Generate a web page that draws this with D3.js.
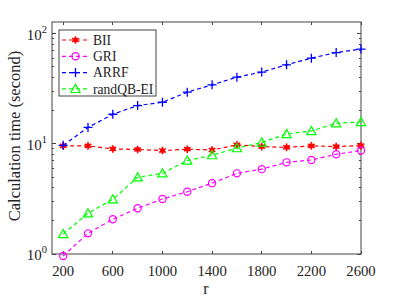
<!DOCTYPE html>
<meta charset="utf-8">
<style>
body { margin: 0; background: #fff; }
text { font-family: "Liberation Serif", "DejaVu Serif", serif; fill: #222; }
.axis path, .axis line { fill: none; stroke: #444; shape-rendering: crispEdges; }
</style>
<body>
<script src="https://cdn.jsdelivr.net/npm/d3@7/dist/d3.min.js"></script>
<script>

var rValues = [200, 400, 600, 800, 1000, 1200, 1400, 1600, 1800, 2000, 2200, 2400, 2600];
var bii = [9.6, 9.6, 9.0, 8.9, 8.7, 8.95, 8.8, 9.8, 9.45, 9.3, 9.6, 9.45, 9.65];
var gri = [0.96, 1.54, 2.07, 2.6, 3.16, 3.68, 4.4, 5.4, 5.9, 6.8, 7.15, 8.05, 8.7];
var arrf = [9.7, 14.1, 18.6, 22.3, 23.9, 29.5, 34.4, 40.4, 44.9, 52.3, 60.1, 67.6, 72.6];
var randqb = [1.52, 2.34, 3.14, 4.98, 5.4, 7.05, 7.9, 9.15, 10.3, 12.3, 13.1, 15.4, 15.8];
var xTicks = [200, 600, 1000, 1400, 1800, 2200, 2600];
var yTicks = [1, 10, 100];

var series = [
  {name: "BII", values: bii, color: "#ff0000", marker: "star"},
  {name: "GRI", values: gri, color: "#ff00ff", marker: "circle"},
  {name: "ARRF", values: arrf, color: "#0000ff", marker: "plus"},
  {name: "randQB-EI", values: randqb, color: "#00ff00", marker: "triangle"}
];

var W = 399, H = 299,
    pL = 52, pR = 361, pT = 22, pB = 254;

var svg = d3.select("body").append("svg")
    .attr("width", W)
    .attr("height", H);

var x = d3.scaleLinear().domain([110, 2600]).range([pL, pR]);
var y = d3.scaleLog().domain([1, 128]).range([pB, pT]);

// minor log ticks
var minor = [];
for (var d = 1; d <= 100; d *= 10) {
  for (var k = 2; k <= 9; k++) if (d * k <= 128) minor.push(d * k);
}

var g = svg.append("g").attr("class", "axis");

// box
g.append("rect")
    .attr("x", pL).attr("y", pT)
    .attr("width", pR - pL).attr("height", pB - pT)
    .attr("fill", "none").attr("stroke", "#444");

// x ticks (bottom & top, inward)
xTicks.forEach(function(v) {
  g.append("line").attr("x1", x(v)).attr("x2", x(v)).attr("y1", pB).attr("y2", pB - 3);
  g.append("line").attr("x1", x(v)).attr("x2", x(v)).attr("y1", pT).attr("y2", pT + 3);
});
svg.selectAll(".xlab")
    .data(xTicks)
  .enter().append("text")
    .attr("x", function(d) { return x(d); })
    .attr("y", pB + 22)
    .attr("text-anchor", "middle")
    .style("font-size", "14.7px")
    .text(function(d) { return d; });

// y ticks
yTicks.forEach(function(v) {
  g.append("line").attr("x1", pL).attr("x2", pL + 4).attr("y1", y(v)).attr("y2", y(v));
  g.append("line").attr("x1", pR).attr("x2", pR - 4).attr("y1", y(v)).attr("y2", y(v));
});
minor.forEach(function(v) {
  g.append("line").attr("x1", pL).attr("x2", pL + 2).attr("y1", y(v)).attr("y2", y(v));
  g.append("line").attr("x1", pR).attr("x2", pR - 2).attr("y1", y(v)).attr("y2", y(v));
});
var ylab = svg.selectAll(".ylab")
    .data(yTicks)
  .enter().append("text")
    .attr("x", pL - 5)
    .attr("y", function(d) { return y(d) + 6; })
    .attr("text-anchor", "end")
    .style("font-size", "15px");
ylab.append("tspan").text("10");
ylab.append("tspan")
    .attr("dy", -7)
    .style("font-size", "10.5px")
    .text(function(d) { return Math.round(Math.log10(d)); });

// axis titles
svg.append("text")
    .attr("x", 206)
    .attr("y", 294)
    .attr("text-anchor", "middle")
    .style("font-size", "16px")
    .text("r");
svg.append("text")
    .attr("transform", "translate(20,136) rotate(-90)")
    .attr("text-anchor", "middle")
    .style("font-size", "16.5px")
    .text("Calculation time (second)");

var line = d3.line()
    .x(function(d, i) { return x(rValues[i]); })
    .y(function(d) { return y(d); });

function drawMarker(sel, s) {
  if (s.marker === "star") {
    sel.append("path")
        .attr("d", d3.symbol().type(d3.symbolAsterisk).size(40))
        .attr("stroke", s.color).attr("stroke-width", 1.6).attr("fill", "none");
    sel.append("circle").attr("r", 2.4).attr("fill", s.color);
  } else if (s.marker === "circle") {
    sel.append("circle").attr("r", 3.6)
        .attr("fill", "none").attr("stroke", s.color).attr("stroke-width", 1.2);
  } else if (s.marker === "plus") {
    sel.append("path")
        .attr("d", "M-4.5,0H4.5M0,-4.5V4.5")
        .attr("stroke", s.color).attr("stroke-width", 1.3);
  } else {
    sel.append("path")
        .attr("d", "M0,-4.6L4.6,3.6H-4.6Z")
        .attr("fill", "none").attr("stroke", s.color).attr("stroke-width", 1.2);
  }
}

series.forEach(function(s) {
  svg.append("path")
      .datum(s.values)
      .attr("d", line)
      .attr("fill", "none")
      .attr("stroke", s.color)
      .attr("stroke-width", 1.2)
      .attr("stroke-dasharray", "4,3");
  svg.selectAll(null)
      .data(s.values)
    .enter().append("g")
      .attr("transform", function(d, i) { return "translate(" + x(rValues[i]) + "," + y(d) + ")"; })
      .each(function() { drawMarker(d3.select(this), s); });
});

// legend
var lg = svg.append("g").attr("transform", "translate(59,30)");
lg.append("rect")
    .attr("width", 97).attr("height", 66)
    .attr("fill", "#fff").attr("stroke", "#444");
var item = lg.selectAll(".legend")
    .data(series)
  .enter().append("g")
    .attr("transform", function(d, i) { return "translate(0," + (10 + i * 16.3) + ")"; });
item.append("line")
    .attr("x1", 3).attr("x2", 30)
    .attr("stroke", function(d) { return d.color; })
    .attr("stroke-width", 1.2)
    .attr("stroke-dasharray", "4,3");
item.append("g")
    .attr("transform", "translate(16.5,0)")
    .each(function(d) { drawMarker(d3.select(this), d); });
item.append("text")
    .attr("x", 34)
    .attr("y", 4.8)
    .style("font-size", "13.6px")
    .text(function(d) { return d.name; });

</script>
